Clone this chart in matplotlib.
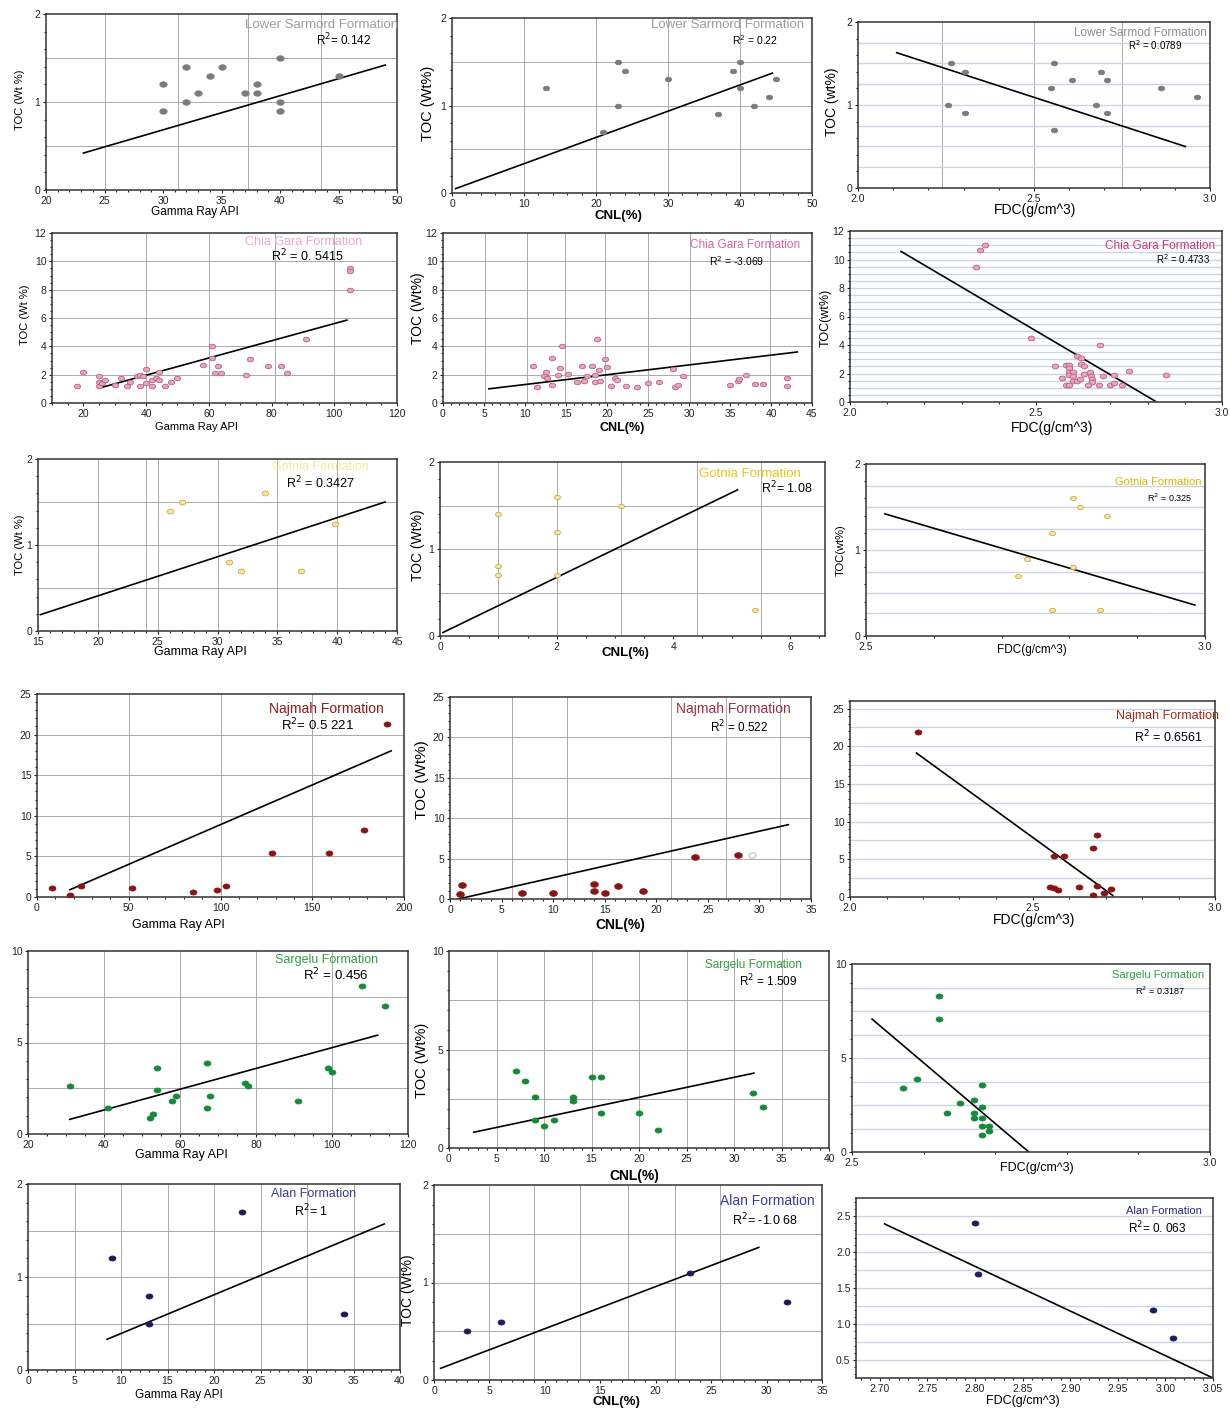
import numpy as np
import matplotlib.pyplot as plt
from matplotlib.path import Path

plt.rcParams['font.family'] = ['Liberation Sans', 'DejaVu Sans']

W, H = 1230, 1410

# ---------------- data ----------------
# Lower Sarmord
ls_gr_x = [30, 30, 32, 32, 33, 34, 35, 37, 38, 38, 40, 40, 40, 45]
ls_gr_y = [1.2, 0.9, 1.4, 1.0, 1.1, 1.3, 1.4, 1.1, 1.2, 1.1, 1.5, 1.0, 0.9, 1.3]
ls_gr_fit = ([23.2, 49], [0.42, 1.42])
ls_cnl_x = [13, 21, 23, 23, 24, 30, 37, 39, 40, 40, 42, 44, 45]
ls_cnl_y = [1.2, 0.7, 1.5, 1.0, 1.4, 1.3, 0.9, 1.4, 1.5, 1.2, 1.0, 1.1, 1.3]
ls_cnl_fit = ([0.5, 44.5], [0.05, 1.37])
ls_fdc_x = [2.264, 2.303, 2.255, 2.303, 2.558, 2.547, 2.607, 2.558, 2.689, 2.708, 2.677, 2.708, 2.86, 2.963]
ls_fdc_y = [1.5, 1.4, 1.0, 0.9, 1.5, 1.2, 1.3, 0.7, 1.4, 1.3, 1.0, 0.9, 1.2, 1.1]
ls_fdc_fit = ([2.11, 2.93], [1.63, 0.5])

# Chia Gara
cg_gr_x = [18, 20, 25, 25, 25, 26, 27, 30, 32, 34, 35, 37, 38, 38, 39, 40, 40, 42, 42, 43,
           44, 44, 46, 48, 50, 58, 61, 61, 62, 63, 64, 72, 73, 79, 83, 85, 91, 105, 105, 105]
cg_gr_y = [1.2, 2.2, 1.9, 1.5, 1.2, 1.4, 1.6, 1.3, 1.8, 1.2, 1.5, 1.9, 2.0, 1.2, 1.9, 2.4, 1.4, 1.6, 1.2, 1.8,
           2.2, 1.6, 1.2, 1.5, 1.8, 2.7, 4.0, 3.2, 2.1, 2.6, 2.1, 2.0, 3.1, 2.6, 2.6, 2.1, 4.5, 9.5, 9.3, 8.0]
cg_gr_fit = ([25, 104], [1.05, 5.85])
cg_cnl_x = [11, 11.5, 12.5, 12.3, 12.7, 13.3, 13.3, 14, 14.3, 14.5, 15.3, 16.3, 17, 17.2, 17.5,
            18.2, 18.5, 18.5, 18.8, 19, 19.2, 19.7, 20, 20.5, 21, 21.2, 22.3, 23.6, 25.0, 26.3,
            28.1, 28.3, 28.7, 29.3, 35.0, 36.0, 36.1, 37.0, 38.0, 39.0, 42.0, 42.0]
cg_cnl_y = [2.6, 1.15, 2.2, 1.9, 1.8, 3.2, 1.25, 2.0, 2.5, 4.0, 2.05, 1.5, 2.6, 1.55, 1.9,
            2.6, 1.5, 2.0, 4.5, 2.35, 1.55, 3.1, 2.55, 1.2, 1.8, 1.6, 1.2, 1.15, 1.4, 1.5,
            2.4, 1.15, 1.25, 1.9, 1.3, 1.55, 1.7, 2.0, 1.35, 1.35, 1.8, 1.2]
cg_cnl_fit = ([5.6, 43.2], [1.0, 3.6])
cg_fdc_x = [2.363, 2.349, 2.34, 2.487, 2.672, 2.61, 2.62, 2.55, 2.58, 2.59, 2.62, 2.63, 2.59, 2.59,
            2.60, 2.63, 2.645, 2.59, 2.60, 2.57, 2.60, 2.61, 2.618, 2.647, 2.65, 2.68, 2.65,
            2.58, 2.59, 2.64, 2.67, 2.70, 2.73, 2.71, 2.71, 2.75, 2.85]
cg_fdc_y = [11.0, 10.7, 9.5, 4.5, 4.0, 3.2, 3.1, 2.5, 2.6, 2.6, 2.7, 2.5, 2.4, 2.1,
            2.1, 2.0, 2.1, 1.9, 1.8, 1.7, 1.5, 1.5, 1.6, 1.8, 1.6, 1.8, 1.4,
            1.2, 1.2, 1.2, 1.2, 1.2, 1.2, 1.3, 1.9, 2.2, 1.9]
cg_fdc_fit = ([2.137, 2.82], [10.57, 0.07])

# Gotnia
gt_gr_x = [26, 27, 34, 39.8, 31, 32, 37]
gt_gr_y = [1.4, 1.5, 1.6, 1.25, 0.8, 0.7, 0.7]
gt_gr_fit = ([15.2, 44], [0.19, 1.5])
gt_cnl_x = [1, 1, 1, 2, 2, 2, 3.1, 5.4]
gt_cnl_y = [1.4, 0.8, 0.7, 1.6, 1.2, 0.7, 1.5, 0.3]
gt_cnl_fit = ([0.05, 5.1], [0.04, 1.68])
gt_fdc_x = [2.805, 2.815, 2.855, 2.775, 2.737, 2.805, 2.724, 2.775, 2.845]
gt_fdc_y = [1.6, 1.5, 1.4, 1.2, 0.89, 0.8, 0.7, 0.3, 0.3]
gt_fdc_fit = ([2.528, 2.985], [1.42, 0.36])

# Najmah
nj_gr_x = [8, 18, 24, 52, 85, 98, 103, 128, 159, 178, 191]
nj_gr_y = [1.1, 0.3, 1.4, 1.1, 0.6, 0.9, 1.4, 5.4, 5.4, 8.3, 21.3]
nj_gr_fit = ([18, 193], [0.9, 18])
nj_cnl_x = [1, 1.2, 7, 10, 14, 14, 15, 16.3, 18.7, 23.8, 27.9]
nj_cnl_y = [0.6, 1.7, 0.7, 0.7, 1.0, 1.9, 0.8, 1.6, 1.0, 5.2, 5.4]
nj_cnl_open = ([29.3], [5.4])
nj_cnl_fit = ([0.8, 32.8], [0.0, 9.2])
nj_fdc_x = [2.185, 2.559, 2.587, 2.667, 2.677, 2.548, 2.559, 2.57, 2.627, 2.677, 2.667, 2.696, 2.716]
nj_fdc_y = [21.9, 5.4, 5.4, 6.5, 8.25, 1.35, 1.15, 0.9, 1.35, 1.45, 0.3, 0.55, 1.0]
nj_fdc_fit = ([2.182, 2.72], [19.1, 0.2])

# Sargelu
sg_gr_x = [31, 41, 52, 53, 54, 54, 58, 59, 67, 67, 68, 77, 78, 91, 99, 100, 108, 114]
sg_gr_y = [2.6, 1.4, 0.9, 1.1, 3.6, 2.4, 1.8, 2.1, 3.9, 1.4, 2.1, 2.8, 2.6, 1.8, 3.6, 3.4, 8.1, 7.0]
sg_gr_fit = ([31, 112], [0.8, 5.4])
sg_cnl_x = [7, 8, 9, 9, 10, 11, 13, 13, 15, 16, 16, 20, 22, 32, 33]
sg_cnl_y = [3.9, 3.4, 2.6, 1.4, 1.1, 1.4, 2.6, 2.4, 3.6, 3.6, 1.8, 1.8, 0.9, 2.8, 2.1]
sg_cnl_fit = ([2.6, 32.1], [0.8, 3.8])
sg_fdc_x = [2.621, 2.621, 2.591, 2.571, 2.681, 2.651, 2.671, 2.681, 2.632, 2.671, 2.671,
            2.681, 2.681, 2.691, 2.691, 2.681]
sg_fdc_y = [8.3, 7.07, 3.88, 3.39, 3.58, 2.59, 2.78, 2.39, 2.09, 2.09, 1.79,
            1.79, 1.4, 1.4, 1.1, 0.89]
sg_fdc_fit = ([2.528, 2.747], [7.07, 0.0])

# Alan
al_gr_x = [9, 13, 13, 23, 34]
al_gr_y = [1.2, 0.8, 0.5, 1.7, 0.6]
al_gr_fit = ([8.5, 38.3], [0.33, 1.57])
al_cnl_x = [3, 6, 23.1, 31.8]
al_cnl_y = [0.5, 0.6, 1.1, 0.8]
al_cnl_fit = ([0.6, 29.3], [0.12, 1.36])
al_fdc_x = [2.80, 2.803, 2.987, 3.008]
al_fdc_y = [2.4, 1.7, 1.2, 0.8]
al_fdc_fit = ([2.705, 3.05], [2.39, 0.25])

# ---------------- drawing ----------------
t = np.linspace(0, 2 * np.pi, 40)
ell = Path(np.column_stack([1.35 * np.cos(t), np.sin(t)]))

fig = plt.figure(figsize=(W / 100, H / 100), dpi=100)


def ftext(px, py, s, **kw):
    fig.text(px / W, 1 - py / H, s, ha='center', va='center', **kw)


def panel(box, x, y, fit, xlim, ylim, xticks, yticks, fc, ec, title, tcol, r2,
          tpos, rpos, tsize=9, rsize=8.5, xlab=None, ylab=None,
          vgrid=(), hgrid=(), light=False, xfmt=None, ms=24):
    l, tp, r, b = box
    ax = fig.add_axes([l / W, 1 - b / H, (r - l) / W, (b - tp) / H])
    ax.set_xlim(*xlim)
    ax.set_ylim(*ylim)
    gcol = '#c9d5e2' if light else '#aaaaaa'
    for v in vgrid:
        ax.axvline(v, color='#aaaaaa', lw=0.7, zorder=0)
    for h in hgrid:
        ax.axhline(h, color=gcol, lw=1.0 if light else 0.7, zorder=0)
    ax.plot(fit[0], fit[1], color='black', lw=1.2, zorder=2)
    ax.scatter(x, y, s=ms, marker=ell, facecolor=fc, edgecolor=ec, lw=0.6, zorder=3)
    ax.set_xticks(xticks)
    ax.set_yticks(yticks)
    if xfmt:
        ax.set_xticklabels([xfmt % v for v in xticks])
    ax.minorticks_on()
    ax.tick_params(which='both', direction='out', length=2.5, width=0.8,
                   labelsize=7.5, pad=1.5, colors='#222')
    ax.tick_params(which='minor', length=1.5)
    for sp in ax.spines.values():
        sp.set_color('#333')
        sp.set_linewidth(1.1)
    ftext(*tpos, title, color=tcol, fontsize=tsize)
    ftext(*rpos, r2, color='black', fontsize=rsize)
    if xlab:
        ftext(xlab[0], xlab[1], xlab[2], fontsize=xlab[3],
              fontweight='bold' if 'CNL' in xlab[2] else 'normal')
    if ylab:
        ftext(ylab[0], ylab[1], ylab[2], fontsize=ylab[3], rotation=90)
    return ax


gray_c = '#7b7b7b'
pink_f, pink_e = '#e9a3bd', '#b5637f'
yel_f, yel_e = '#f7e59a', '#c9a94a'
red_c = '#8a1414'
grn_c = '#16893a'
nav_c = '#1c1c5c'

# Row 1 - Lower Sarmord
panel((46, 14, 397, 190), ls_gr_x, ls_gr_y, ls_gr_fit, (20, 50), (0, 2),
      range(20, 51, 5), [0, 1, 2], gray_c, gray_c, 'Lower Sarmord Formation', '#9c9c9c',
      'R$^2$= 0.142', (322, 25), (344, 40), tsize=9.5, rsize=8.5,
      xlab=(195, 212, 'Gamma Ray API', 8.5), ylab=(20, 100, 'TOC (Wt %)', 8),
      vgrid=[25, 31.3, 37.3, 43.5], hgrid=[0.5, 1, 1.5], ms=28)
panel((452, 18, 812, 193), ls_cnl_x, ls_cnl_y, ls_cnl_fit, (0, 50), (0, 2),
      range(0, 51, 10), [0, 1, 2], gray_c, gray_c, 'Lower Sarmord Formation', '#9c9c9c',
      'R$^2$ = 0.22', (728, 25), (755, 40), tsize=9.5, rsize=7.5,
      xlab=(618, 216, 'CNL(%)', 9.5), ylab=(428, 103, 'TOC (Wt%)', 10.5),
      vgrid=[10, 20, 30, 40], hgrid=[0.5, 1, 1.5], ms=20)
panel((858, 22, 1210, 188), ls_fdc_x, ls_fdc_y, ls_fdc_fit, (2.0, 3.0), (0, 2),
      [2.0, 2.5, 3.0], [0, 1, 2], gray_c, gray_c, 'Lower Sarmod Formation', '#8c8c8c',
      'R$^2$ = 0.0789', (1140, 33), (1155, 45), tsize=8.5, rsize=7,
      xlab=(1035, 210, 'FDC(g/cm^3)', 10), ylab=(832, 102, 'TOC (wt%)', 10),
      vgrid=[2.24, 2.5, 2.75], hgrid=[0.25, 0.5, 0.75, 1, 1.25, 1.5, 1.75], light=True,
      xfmt='%.1f', ms=20)

# Row 2 - Chia Gara
panel((52, 233, 397, 403), cg_gr_x, cg_gr_y, cg_gr_fit, (10, 120), (0, 12),
      range(20, 121, 20), range(0, 13, 2), pink_f, pink_e, 'Chia Gara Formation', '#f3a5c3',
      'R$^2$ = 0. 5415', (304, 242), (307, 256), tsize=9, rsize=9,
      xlab=(196, 427, 'Gamma Ray API', 8), ylab=(25, 315, 'TOC (Wt %)', 8),
      vgrid=[40, 60, 81, 100], hgrid=[2, 4, 6, 8, 10], ms=20)
panel((443, 233, 812, 403), cg_cnl_x, cg_cnl_y, cg_cnl_fit, (0, 45), (0, 12),
      range(0, 46, 5), range(0, 13, 2), pink_f, pink_e, 'Chia Gara Formation', '#e0619d',
      'R$^2$ = -3.069', (745, 245), (737, 261), tsize=8.5, rsize=7.5,
      xlab=(622, 428, 'CNL(%)', 9), ylab=(418, 308, 'TOC (Wt%)', 10),
      vgrid=[5.1, 10.2, 14.9, 19.8, 25, 30.1, 39.9], hgrid=[2, 4, 6, 8, 10], ms=20)
panel((850, 231, 1222, 402), cg_fdc_x, cg_fdc_y, cg_fdc_fit, (2.0, 3.0), (0, 12),
      [2.0, 2.5, 3.0], range(0, 13, 2), pink_f, pink_e, 'Chia Gara Formation', '#d6307a',
      'R$^2$ = 0.4733', (1160, 246), (1183, 259), tsize=8.5, rsize=7,
      xlab=(1052, 428, 'FDC(g/cm^3)', 10), ylab=(826, 318, 'TOC(wt%)', 9),
      hgrid=np.arange(0.5, 12, 0.5), light=True, xfmt='%.1f', ms=22)

# Row 3 - Gotnia
panel((38, 459, 397, 631), gt_gr_x, gt_gr_y, gt_gr_fit, (15, 45), (0, 2),
      range(15, 46, 5), [0, 1, 2], yel_f, yel_e, 'Gotnia Formation', '#f8e6a2',
      'R$^2$ = 0.3427', (320, 467), (320, 483), tsize=9, rsize=9,
      xlab=(200, 652, 'Gamma Ray API', 9), ylab=(20, 545, 'TOC (Wt %)', 8),
      vgrid=[20, 24, 25, 30, 35, 40], hgrid=[0.5, 1, 1.5], ms=22)
panel((440, 462, 825, 636), gt_cnl_x, gt_cnl_y, gt_cnl_fit, (0, 6.6), (0, 2),
      [0, 2, 4, 6], [0, 1, 2], yel_f, yel_e, 'Gotnia Formation', '#e6c619',
      'R$^2$= 1.08', (750, 474), (787, 488), tsize=9.5, rsize=9,
      xlab=(625, 653, 'CNL(%)', 9.5), ylab=(418, 545, 'TOC (Wt%)', 10),
      vgrid=[1, 2, 3.1, 4.4, 5.5], hgrid=[0.5, 1, 1.5], ms=18)
panel((866, 464, 1205, 636), gt_fdc_x, gt_fdc_y, gt_fdc_fit, (2.5, 3.0), (0, 2),
      [2.5, 3.0], [0, 1, 2], yel_f, yel_e, 'Gotnia Formation', '#d6b600',
      'R$^2$ = 0.325', (1158, 482), (1170, 498), tsize=8, rsize=6.5,
      xlab=(1032, 650, 'FDC(g/cm^3)', 8.5), ylab=(841, 550, 'TOC(wt%)', 8),
      hgrid=[0.27, 0.5, 0.75, 1, 1.25, 1.5, 1.75], light=True, xfmt='%.1f', ms=18)

# Row 4 - Najmah
panel((37, 694, 404, 897), nj_gr_x, nj_gr_y, nj_gr_fit, (0, 200), (0, 25),
      range(0, 201, 50), range(0, 26, 5), red_c, red_c, 'Najmah Formation', '#8b1a1a',
      'R$^2$= 0.5 221', (326, 709), (318, 725), tsize=10, rsize=9.5,
      xlab=(178, 925, 'Gamma Ray API', 9),
      vgrid=[50, 100, 150], hgrid=[5, 10, 15, 20])
ax11 = panel((450, 697, 811, 899), nj_cnl_x, nj_cnl_y, nj_cnl_fit, (0, 35), (0, 25),
             range(0, 36, 5), range(0, 26, 5), red_c, red_c, 'Najmah Formation', '#a03040',
             'R$^2$ = 0.522', (733, 709), (739, 727), tsize=10, rsize=8.5,
             xlab=(620, 925, 'CNL(%)', 10), ylab=(422, 780, 'TOC (Wt%)', 11),
             vgrid=[6, 11.3, 21.4, 26.8, 32], hgrid=[5, 10, 15, 20], ms=30)
ax11.scatter(nj_cnl_open[0], nj_cnl_open[1], s=26, marker=ell, facecolor='white',
             edgecolor='#bbbbbb', lw=0.8, zorder=3)
panel((850, 701, 1215, 897), nj_fdc_x, nj_fdc_y, nj_fdc_fit, (2.0, 3.0), (0, 26),
      [2.0, 2.5, 3.0], range(0, 26, 5), red_c, red_c, 'Najmah Formation', '#a5281a',
      'R$^2$ = 0.6561', (1167, 716), (1168, 737), tsize=9, rsize=9,
      xlab=(1034, 920, 'FDC(g/cm^3)', 10),
      hgrid=np.arange(2.5, 26, 2.5), light=True, xfmt='%.1f')

# Row 5 - Sargelu
panel((28, 951, 408, 1134), sg_gr_x, sg_gr_y, sg_gr_fit, (20, 120), (0, 10),
      range(20, 121, 20), [0, 5, 10], grn_c, grn_c, 'Sargelu Formation', '#2e9e3e',
      'R$^2$ = 0.456', (327, 960), (336, 975), tsize=9, rsize=9.5,
      xlab=(181, 1155, 'Gamma Ray API', 9),
      vgrid=[40, 60, 80, 100], hgrid=[2.5, 5, 7.5])
panel((449, 951, 829, 1148), sg_cnl_x, sg_cnl_y, sg_cnl_fit, (0, 40), (0, 10),
      range(0, 41, 5), [0, 5, 10], grn_c, grn_c, 'Sargelu Formation', '#2e9e3e',
      'R$^2$ = 1.509', (753, 965), (768, 981), tsize=8.5, rsize=8.5,
      xlab=(634, 1176, 'CNL(%)', 10), ylab=(422, 1060, 'TOC (Wt%)', 10.5),
      vgrid=[5, 10, 15, 20, 25, 30, 35], hgrid=[2.5, 5, 7.5])
panel((852, 964, 1210, 1152), sg_fdc_x, sg_fdc_y, sg_fdc_fit, (2.5, 3.0), (0, 10),
      [2.5, 3.0], [0, 5, 10], grn_c, grn_c, 'Sargelu Formation', '#2e9e3e',
      'R$^2$ = 0.3187', (1158, 975), (1160, 991), tsize=8, rsize=6.5,
      xlab=(1037, 1168, 'FDC(g/cm^3)', 9),
      hgrid=[1.25, 2.5, 3.75, 5, 6.25, 7.5, 8.75], light=True, xfmt='%.1f')

# Row 6 - Alan
panel((28, 1184, 400, 1370), al_gr_x, al_gr_y, al_gr_fit, (0, 40), (0, 2),
      range(0, 41, 5), [0, 1, 2], nav_c, nav_c, 'Alan Formation', '#3a3a9a',
      'R$^2$= 1', (314, 1194), (311, 1211), tsize=9, rsize=9,
      xlab=(179, 1395, 'Gamma Ray API', 8.5),
      vgrid=range(5, 36, 5), hgrid=[0.5, 1, 1.5])
panel((434, 1185, 822, 1380), al_cnl_x, al_cnl_y, al_cnl_fit, (0, 35), (0, 2),
      range(0, 36, 5), [0, 1, 2], nav_c, nav_c, 'Alan Formation', '#3a3aaa',
      'R$^2$= -1.0 68', (767, 1201), (765, 1220), tsize=10, rsize=9,
      xlab=(616, 1402, 'CNL(%)', 9.5), ylab=(408, 1290, 'TOC (Wt%)', 10),
      vgrid=[5, 9, 13.2, 17.5, 21.7, 25.8], hgrid=[0.5, 1, 1.5])
panel((856, 1198, 1213, 1378), al_fdc_x, al_fdc_y, al_fdc_fit, (2.675, 3.05), (0.25, 2.75),
      np.arange(2.70, 3.051, 0.05), [0.5, 1.0, 1.5, 2.0, 2.5], nav_c, nav_c,
      'Alan Formation', '#2a2a8a', 'R$^2$= 0. 063', (1164, 1211), (1157, 1228),
      tsize=8, rsize=8.5, xlab=(1023, 1401, 'FDC(g/cm^3)', 9),
      hgrid=np.arange(0.5, 2.75, 0.25), light=True, xfmt='%.2f')
plt.gca().set_yticklabels(['0.5', '1.0', '1.5', '2.0', '2.5'])

fig.savefig('out.png', dpi=100)
